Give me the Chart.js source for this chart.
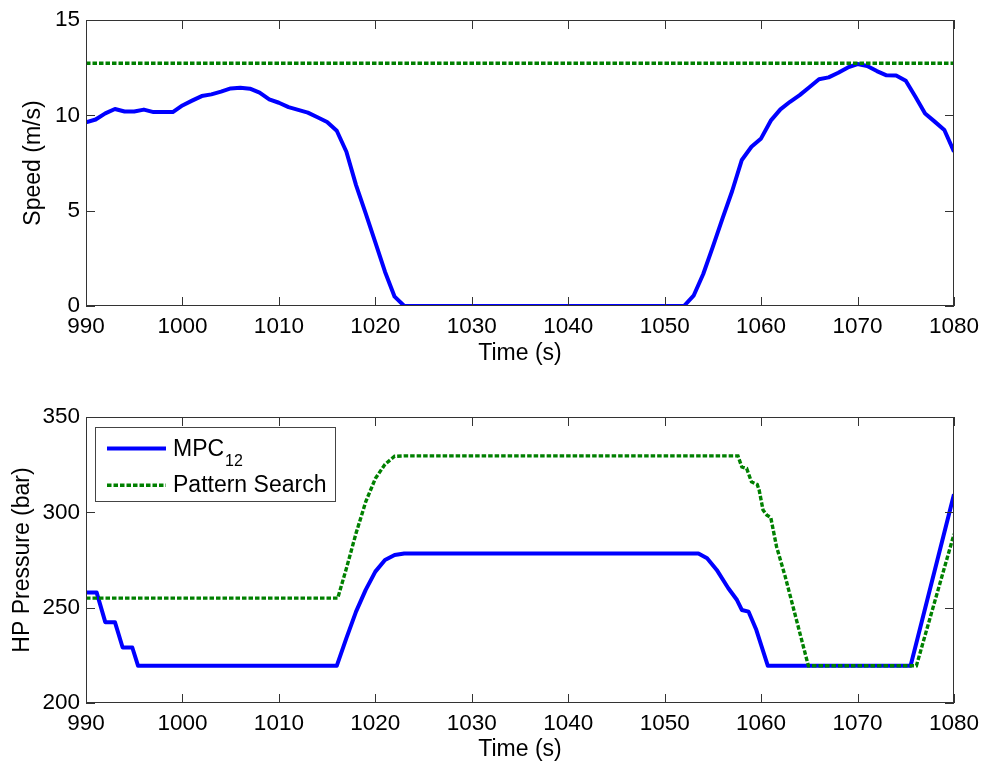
<!DOCTYPE html>
<html>
<head>
<meta charset="utf-8">
<script src="https://cdn.jsdelivr.net/npm/chart.js@4.4.1/dist/chart.umd.min.js"></script>
<style>
  body { margin: 0; background: #fff; }
  #wrap { position: relative; width: 987px; height: 769px; }
  canvas { position: absolute; left: 0; }
</style>
</head>
<body>
<div id="wrap">
  <canvas id="speedChart" width="987" height="384" style="top:0"></canvas>
  <canvas id="pressureChart" width="987" height="385" style="top:384px"></canvas>
</div>
<script>
// --- data ---
const timeTicks = [990, 1000, 1010, 1020, 1030, 1040, 1050, 1060, 1070, 1080];
const speedTicks = [0, 5, 10, 15];
const pressureTicks = [200, 250, 300, 350];

// top panel: vehicle speed
const speedTime = [990, 991, 992, 993, 994, 995, 996, 997, 998, 999,
  1000, 1001, 1002, 1003, 1004, 1005, 1006, 1007, 1008, 1009,
  1010, 1011, 1012, 1013, 1014, 1015, 1016, 1017, 1018, 1019,
  1020, 1021, 1022, 1023, 1052, 1053, 1054, 1055, 1056, 1057,
  1058, 1059, 1060, 1061, 1062, 1063, 1064, 1065, 1066, 1067,
  1068, 1069, 1070, 1071, 1072, 1073, 1074, 1075, 1076, 1077,
  1078, 1079, 1080];
const speedMpc = [9.63, 9.78, 10.1, 10.33, 10.2, 10.2, 10.3, 10.17, 10.17, 10.17,
  10.52, 10.77, 11.01, 11.1, 11.24, 11.41, 11.45, 11.4, 11.19, 10.84,
  10.66, 10.43, 10.29, 10.14, 9.9, 9.65, 9.19, 8.09, 6.34, 4.86,
  3.34, 1.8, 0.49, 0, 0, 0.54, 1.68, 3.11, 4.6, 6.03,
  7.66, 8.35, 8.79, 9.72, 10.31, 10.71, 11.06, 11.47, 11.89, 11.99,
  12.23, 12.51, 12.69, 12.59, 12.32, 12.1, 12.09, 11.81, 10.97, 10.1,
  9.67, 9.23, 8.09];
const speedPsTime = [990, 1080];
const speedPs = [12.73, 12.73];

// bottom panel: HP pressure
const pressMpcTime = [990, 991.1, 992, 993, 993.8, 994.8, 995.4, 1016, 1017, 1018,
  1019, 1020, 1021, 1022, 1023, 1053.5, 1054.4, 1055.4, 1056.6, 1057.5,
  1058, 1058.7, 1059.5, 1060.7, 1075.5, 1080];
const pressMpc = [258, 258, 242.4, 242.4, 229.1, 229.1, 219.5, 219.5, 234, 247.9,
  259.3, 268.9, 275, 277.6, 278.4, 278.4, 275.9, 269.8, 260.2, 254,
  248.8, 247.9, 238.4, 219.5, 219.5, 309.5];
const pressPsTime = [990, 1016.1, 1017, 1018, 1019, 1020, 1021, 1022, 1023, 1057.6,
  1058, 1058.5, 1059, 1059.6, 1059.8, 1060.2, 1060.6, 1061, 1061.6, 1062.5,
  1064.9, 1076.1, 1080];
const pressPs = [255, 255, 270.6, 289, 305.5, 317.7, 325.2, 329.4, 329.6, 329.6,
  323.8, 323, 316, 314.6, 311.6, 301.2, 298.5, 297.3, 282, 266.3,
  219.5, 219.5, 288.6];

const FONT = '"Liberation Sans", Arial, sans-serif';
Chart.defaults.font.family = FONT;
Chart.defaults.color = '#000';

const toPoints = (xs, ys) => xs.map((x, i) => ({ x: x, y: ys[i] }));

// MATLAB style box with inward ticks on all four sides
const matlabBox = {
  id: 'matlabBox',
  afterDatasetsDraw(chart) {
    const { ctx, chartArea: a, scales: { x, y } } = chart;
    ctx.save();
    ctx.strokeStyle = '#333';
    ctx.lineWidth = 1;
    ctx.beginPath();
    x.ticks.forEach(t => {
      const px = Math.round(x.getPixelForValue(t.value)) + 0.5;
      ctx.moveTo(px, a.bottom); ctx.lineTo(px, a.bottom - 9);
      ctx.moveTo(px, a.top); ctx.lineTo(px, a.top + 9);
    });
    y.ticks.forEach(t => {
      const py = Math.round(y.getPixelForValue(t.value)) + 0.5;
      ctx.moveTo(a.left, py); ctx.lineTo(a.left + 9, py);
      ctx.moveTo(a.right, py); ctx.lineTo(a.right - 9, py);
    });
    ctx.stroke();
    ctx.strokeRect(a.left + 0.5, a.top + 0.5, a.right - a.left - 1, a.bottom - a.top - 1);
    ctx.restore();
  }
};

// boxed legend with subscript support
const boxLegend = {
  id: 'boxLegend',
  afterDraw(chart) {
    const { ctx, chartArea: a } = chart;
    const left = a.left + 9, top = a.top + 10, w = 240, h = 74;
    ctx.save();
    ctx.fillStyle = '#fff';
    ctx.fillRect(left, top, w, h);
    ctx.strokeStyle = '#444';
    ctx.lineWidth = 1;
    ctx.strokeRect(left + 0.5, top + 0.5, w, h);
    chart.data.datasets.forEach((ds, i) => {
      const ly = top + 21.5 + i * 36.7;
      ctx.strokeStyle = ds.borderColor;
      ctx.lineWidth = ds.borderWidth;
      ctx.setLineDash(ds.borderDash || []);
      ctx.beginPath();
      ctx.moveTo(left + 12, ly);
      ctx.lineTo(left + 71, ly);
      ctx.stroke();
      ctx.setLineDash([]);
      ctx.fillStyle = '#000';
      ctx.textBaseline = 'alphabetic';
      ctx.font = '23px ' + FONT;
      ctx.fillText(ds.label, left + 78, ly + 7);
      if (ds.labelSub) {
        const tw = ctx.measureText(ds.label).width;
        ctx.font = '16px ' + FONT;
        ctx.fillText(ds.labelSub, left + 78 + tw + 1, ly + 17);
      }
    });
    ctx.restore();
  }
};

function makeOptions(cfg) {
  return {
    responsive: false,
    animation: false,
    devicePixelRatio: 1,
    layout: { padding: { top: cfg.padTop, right: 33, left: 0, bottom: 0 } },
    plugins: { legend: { display: false }, tooltip: { enabled: false } },
    elements: { point: { radius: 0 }, line: { tension: 0 } },
    scales: {
      x: {
        type: 'linear',
        min: timeTicks[0],
        max: timeTicks[timeTicks.length - 1],
        grid: { display: false, drawTicks: false },
        border: { display: false },
        ticks: {
          stepSize: timeTicks[1] - timeTicks[0],
          padding: 7,
          font: { size: 22.5 },
          maxRotation: 0,
          autoSkip: false,
          callback: v => String(v)
        },
        title: { display: true, text: 'Time (s)', font: { size: 23 }, padding: { top: 0, bottom: cfg.xTitlePad } },
        afterFit: s => { s.height = cfg.xHeight; }
      },
      y: {
        min: cfg.yTicks[0],
        max: cfg.yTicks[cfg.yTicks.length - 1],
        grid: { display: false, drawTicks: false },
        border: { display: false },
        ticks: {
          stepSize: cfg.yTicks[1] - cfg.yTicks[0],
          padding: 6,
          font: { size: 22.5 },
          callback: v => String(v)
        },
        title: { display: true, text: cfg.yTitle, font: { size: 23 }, padding: { top: cfg.yTitlePad, bottom: 0 } },
        afterFit: s => { s.width = 86; }
      }
    }
  };
}

new Chart(document.getElementById('speedChart'), {
  type: 'line',
  data: {
    datasets: [
      { label: 'MPC', labelSub: '12', data: toPoints(speedTime, speedMpc),
        borderColor: '#0000ff', borderWidth: 4, borderJoinStyle: 'round', clip: 0, order: 1 },
      { label: 'Pattern Search', data: toPoints(speedPsTime, speedPs),
        borderColor: '#008000', borderWidth: 3.4, borderDash: [4.5, 2], clip: 0, order: 0 }
    ]
  },
  options: makeOptions({ padTop: 20, xHeight: 78, xTitlePad: 17, yTicks: speedTicks, yTitle: 'Speed (m/s)', yTitlePad: 20 }),
  plugins: [matlabBox]
});

new Chart(document.getElementById('pressureChart'), {
  type: 'line',
  data: {
    datasets: [
      { label: 'MPC', labelSub: '12', data: toPoints(pressMpcTime, pressMpc),
        borderColor: '#0000ff', borderWidth: 4, borderJoinStyle: 'round', clip: 0, order: 1 },
      { label: 'Pattern Search', data: toPoints(pressPsTime, pressPs),
        borderColor: '#008000', borderWidth: 3.4, borderDash: [4.5, 2], clip: 0, order: 0 }
    ]
  },
  options: makeOptions({ padTop: 33, xHeight: 66, xTitlePad: 6, yTicks: pressureTicks, yTitle: 'HP Pressure (bar)', yTitlePad: 9 }),
  plugins: [matlabBox, boxLegend]
});
</script>
</body>
</html>
